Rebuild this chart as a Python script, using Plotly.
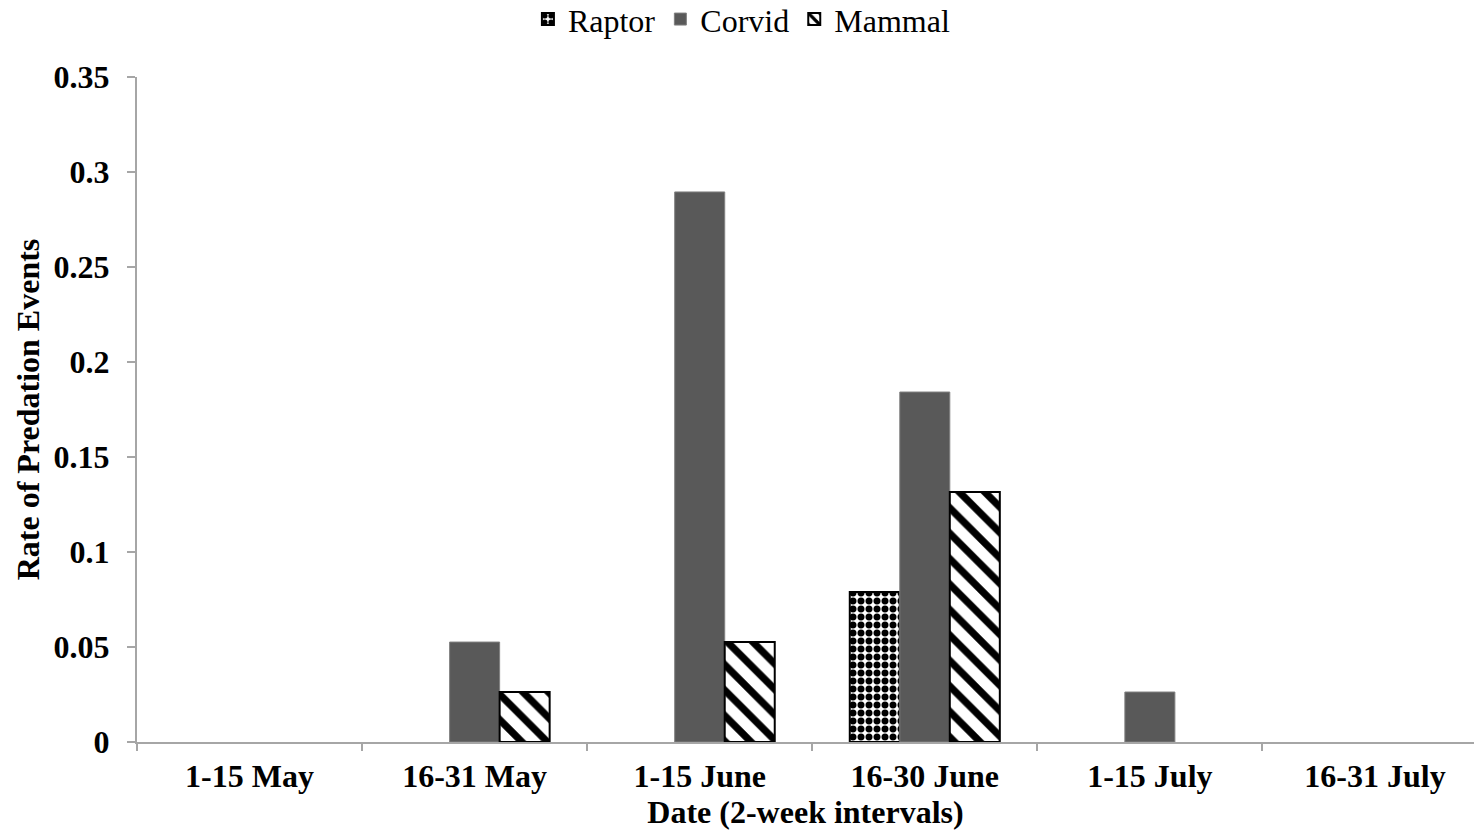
import plotly.graph_objects as go

# Two-week sampling intervals
categories = ["1-15 May", "16-31 May", "1-15 June", "16-30 June", "1-15 July", "16-31 July"]

# Rate of predation events by predator type
raptor = [0, 0, 0, 0.0789, 0, 0]
corvid = [0, 0.0526, 0.2895, 0.1842, 0.0263, 0]
mammal = [0, 0.0263, 0.0526, 0.1316, 0, 0]

y_ticks = [0, 0.05, 0.1, 0.15, 0.2, 0.25, 0.3, 0.35]
y_tick_text = ["0", "0.05", "0.1", "0.15", "0.2", "0.25", "0.3", "0.35"]

serif = "Liberation Serif, Times New Roman, serif"
axis_gray = "#a6a6a6"
FS = 32


def nonzero(values):
    # empty intervals get no bar (and so no outline on the baseline)
    pairs = [(c, v) for c, v in zip(categories, values) if v > 0]
    return [c for c, _ in pairs], [v for _, v in pairs]


fig = go.Figure()

x, y = nonzero(raptor)
fig.add_trace(go.Bar(
    name="Raptor", x=x, y=y,
    marker=dict(color="white",
                line=dict(color="black", width=2),
                pattern=dict(shape=".", size=8, solidity=0.6,
                             fgcolor="black", bgcolor="white", fillmode="replace")),
))

x, y = nonzero(corvid)
fig.add_trace(go.Bar(
    name="Corvid", x=x, y=y,
    marker=dict(color="#595959", line=dict(color="#808080", width=1)),
))

x, y = nonzero(mammal)
fig.add_trace(go.Bar(
    name="Mammal", x=x, y=y,
    marker=dict(color="white",
                line=dict(color="black", width=2),
                pattern=dict(shape="\\", size=18, solidity=0.4,
                             fgcolor="black", bgcolor="white", fillmode="replace")),
))

fig.update_layout(
    width=1474, height=838,
    margin=dict(l=137, r=0, t=77, b=96),
    paper_bgcolor="white", plot_bgcolor="white",
    barmode="group", bargap=1/3, bargroupgap=0,
    font=dict(family=serif, color="black"),
    showlegend=True,
    legend=dict(orientation="h", xref="container", yref="container",
                x=0.503, y=0.977, xanchor="center", yanchor="middle",
                font=dict(size=FS, family=serif), itemwidth=30,
                traceorder="normal"),
    xaxis=dict(
        type="category", categoryorder="array", categoryarray=categories,
        range=[-0.5, 5.44],
        showline=True, linecolor=axis_gray, linewidth=2,
        ticks="outside", tickson="boundaries", ticklen=7, tickcolor=axis_gray, tickwidth=2,
        showgrid=False, zeroline=False, ticklabelstandoff=5,
        tickfont=dict(size=FS, family=serif, weight="bold"),
        title=dict(text="Date (2-week intervals)", standoff=1,
                   font=dict(size=FS, family=serif, weight="bold")),
    ),
    yaxis=dict(
        range=[0, 0.35], tickvals=y_ticks, ticktext=y_tick_text,
        showline=True, linecolor=axis_gray, linewidth=2,
        ticks="outside", ticklen=8, tickcolor=axis_gray, tickwidth=2,
        showgrid=False, zeroline=False, ticklabelstandoff=11,
        tickfont=dict(size=FS, family=serif, weight="bold"),
        title=dict(text="Rate of Predation Events", standoff=4,
                   font=dict(size=FS, family=serif, weight="bold")),
    ),
)

fig.write_html("out.html")
